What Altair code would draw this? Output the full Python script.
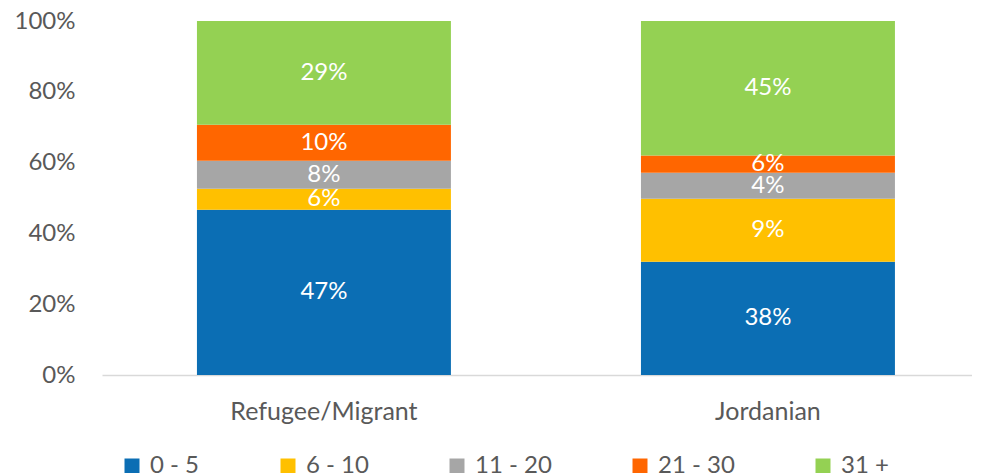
import altair as alt
import pandas as pd

groups = ["Refugee/Migrant", "Jordanian"]
bands = ["0 - 5", "6 - 10", "11 - 20", "21 - 30", "31 +"]
refugee_values = [46.7, 5.9, 7.9, 10.2, 29.3]
jordanian_values = [32.0, 17.8, 7.3, 4.9, 38.0]
refugee_labels = ["47%", "6%", "8%", "10%", "29%"]
jordanian_labels = ["38%", "9%", "4%", "6%", "45%"]
colors = ["#0B6EB4", "#FFC000", "#A6A6A6", "#FF6600", "#94D153"]

rows = []
for g, vals, labs in [(groups[0], refugee_values, refugee_labels),
                      (groups[1], jordanian_values, jordanian_labels)]:
    for i, (b, v, l) in enumerate(zip(bands, vals, labs)):
        rows.append({"group": g, "band": b, "value": v / 100.0, "label": l, "idx": i})
df = pd.DataFrame(rows)

FONT = "Lato"
GREY = "#595959"

base = alt.Chart(df).transform_stack(
    stack="value", groupby=["group"], sort=[alt.SortField("idx")], as_=["y0", "y1"]
).transform_calculate(mid="(datum.y0 + datum.y1) / 2")

xenc = alt.X(
    "group:N",
    sort=groups,
    title=None,
    scale=alt.Scale(paddingInner=0.428, paddingOuter=0.1937, align=0.552),
    axis=alt.Axis(labelAngle=0, labelFont=FONT, labelFontSize=25, labelColor=GREY,
                  labelPadding=24, labelLimit=400, ticks=False, domainColor="#D9D9D9",
                  domainWidth=1.5, grid=False),
)

bars = base.mark_bar().encode(
    x=xenc,
    y=alt.Y("y0:Q", title=None,
            scale=alt.Scale(domain=[0, 1], nice=False),
            axis=alt.Axis(format=".0%", values=[0, 0.2, 0.4, 0.6, 0.8, 1.0],
                          labelFont=FONT, labelFontSize=24, labelColor=GREY,
                          labelPadding=27, ticks=False, domain=False, grid=False)),
    y2="y1:Q",
    color=alt.Color("band:N", sort=bands,
                    scale=alt.Scale(domain=bands, range=colors),
                    legend=alt.Legend(title=None, orient="none", direction="horizontal",
                                      legendX=18, legendY=433, symbolType="square",
                                      symbolSize=225, symbolStrokeWidth=0,
                                      labelFont=FONT, labelFontSize=24, labelColor=GREY,
                                      labelOffset=6, columnPadding=76, padding=0,
                                      labelLimit=200)),
)

texts = base.mark_text(font=FONT, fontSize=24, color="white", baseline="middle").encode(
    x=alt.X("group:N", sort=groups),
    y=alt.Y("mid:Q"),
    text="label:N",
)

chart = alt.layer(bars, texts).properties(
    width=870, height=354,
    autosize=alt.AutoSizeParams(type="none"),
    padding={"left": 94, "top": 13, "right": 0, "bottom": 98},
).configure_view(stroke=None)

chart.save("out.html", embed_options={"renderer": "svg", "actions": False})
